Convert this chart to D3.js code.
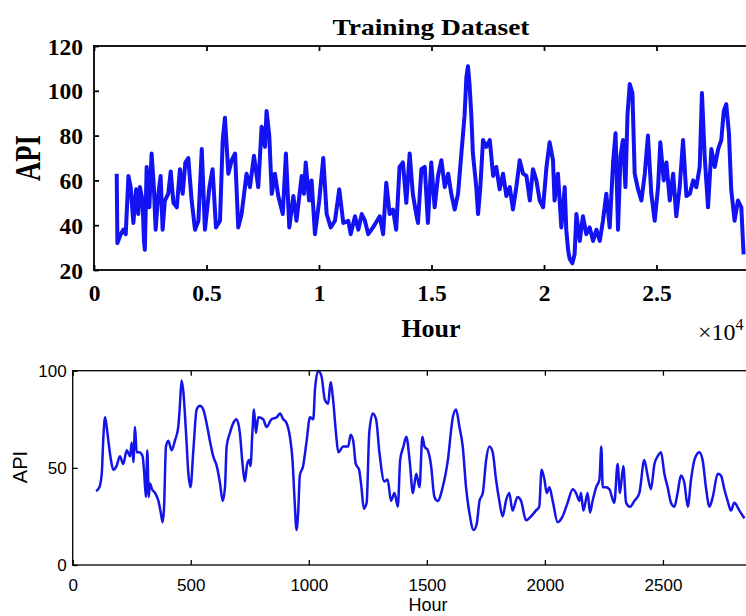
<!DOCTYPE html>
<html>
<head>
<meta charset="utf-8">
<script src="https://cdn.jsdelivr.net/npm/d3@7"></script>
<style>
  html, body { margin: 0; padding: 0; background: #fff; }
  svg { display: block; }
</style>
</head>
<body>
<svg id="chart" width="746" height="616"></svg>
<script>
// ---------------- DATA ----------------
// Top panel: Training Dataset (hour, API)
const trainHours = [1010,1040,1190,1300,1410,1530,1630,1750,1870,1970,2040,2160,2220,2260,2340,2460,2560,2660,2740,2850,2960,3050,3150,3300,3410,3530,3680,3820,3940,4060,4190,4340,4490,4640,4790,4930,5130,5270,5420,5600,5720,5820,5970,6120,6270,6410,6560,6780,6930,7110,7300,7450,7600,7670,7790,7900,8040,8190,8390,8530,8680,8860,9000,9230,9330,9410,9560,9670,9820,10010,10190,10340,10520,10710,10900,11080,11300,11410,11600,11750,11900,12040,12190,12400,12700,12850,12990,13140,13290,13430,13580,13730,13880,14030,14170,14320,14400,14550,14700,14840,14990,15140,15290,15440,15590,15740,15880,16030,16180,16320,16470,16550,16620,16690,16770,16840,16990,17070,17170,17290,17440,17590,17740,17880,18030,18180,18330,18480,18620,18770,18920,19070,19220,19370,19510,19660,19810,19960,20110,20250,20400,20470,20620,20770,20920,20990,21070,21140,21260,21360,21440,21590,21730,21880,22030,22180,22330,22480,22620,22770,22920,23070,23180,23290,23400,23510,23620,23710,23810,23930,24030,24180,24330,24480,24620,24770,24920,25070,25170,25320,25440,25590,25740,25880,26030,26180,26330,26480,26630,26770,26920,27020,27140,27290,27440,27590,27740,27880,27990,28100,28220,28320,28470,28620,28770,28870];
const trainAPI = [63,32,36,38,36,62,57,41,56,45,57,51,33,29,66,48,72,57,38,53,62,38,51,54,64,50,48,65,54,68,70,51,38,42,74,38,57,65,39,42,78,88,63,69,72,39,45,63,57,71,57,84,75,91,80,54,63,53,45,72,39,53,42,62,54,68,51,60,36,51,70,45,39,42,56,41,42,36,44,38,45,42,36,39,44,36,59,45,47,38,66,68,50,72,54,45,41,65,66,41,68,48,62,69,57,63,54,47,54,71,89,106,111,103,89,72,57,45,57,78,75,78,62,66,56,63,53,57,47,57,69,63,62,51,65,60,51,48,66,77,69,51,63,39,57,38,29,25,23,27,45,33,44,36,39,33,38,33,42,54,39,68,81,38,71,78,57,89,103,99,63,56,51,63,80,54,42,57,77,60,68,51,63,44,57,78,53,54,60,57,66,99,71,48,74,66,74,78,91,94,81,56,42,51,48,27];

// Bottom panel (hour, API)
const testHours = [99,113,123,130,137,144,151,162,172,186,200,214,229,243,250,257,264,271,282,296,303,310,316,322,327,336,349,363,373,381,387,395,405,419,433,447,454,461,468,480,490,499,511,525,539,553,567,581,595,610,624,635,645,652,666,680,694,708,720,729,739,748,753,761,768,776,786,807,821,842,864,878,892,906,920,931,940,948,955,962,976,991,1005,1019,1026,1040,1054,1068,1082,1092,1103,1115,1125,1146,1167,1177,1188,1199,1213,1223,1233,1245,1256,1271,1285,1299,1320,1334,1348,1363,1377,1387,1401,1413,1427,1441,1455,1469,1481,1490,1504,1518,1532,1546,1567,1589,1610,1624,1638,1652,1666,1680,1698,1711,1723,1737,1751,1765,1779,1793,1807,1821,1835,1849,1863,1884,1899,1920,1941,1962,1976,1986,1998,2008,2019,2033,2054,2075,2096,2118,2132,2146,2153,2163,2181,2191,2202,2217,2231,2239,2245,2259,2273,2294,2308,2318,2332,2344,2361,2379,2400,2421,2435,2449,2464,2478,2492,2506,2520,2534,2548,2562,2576,2591,2605,2619,2633,2654,2668,2682,2697,2711,2732,2746,2760,2774,2788,2802,2824,2845];
const testAPI = [38,40,47,66,76,71,64,54,49,51,56,52,59,56,63,53,71,58,58,56,47,35,59,35,42,39,37,33,27,22,30,61,64,59,64,71,82,95,90,68,47,40,59,80,82,80,73,64,56,51,42,33,40,61,68,73,75,68,51,43,52,54,51,68,80,68,76,75,71,75,76,78,75,73,66,54,33,18,27,46,51,64,76,75,90,100,97,85,83,94,85,68,58,61,61,67,64,52,49,40,29,32,68,78,75,58,43,44,33,37,30,54,61,66,54,37,47,40,66,61,59,51,35,33,40,54,76,80,71,61,40,27,18,21,33,37,54,61,58,44,33,25,33,37,28,35,33,23,25,28,30,49,44,37,40,33,22,25,32,39,37,33,37,28,37,27,33,40,44,61,40,40,39,32,52,37,51,32,30,33,37,54,46,39,52,56,58,47,40,32,30,37,46,42,30,44,54,58,54,40,30,35,47,46,39,33,28,32,28,24];

// Tick values / labels (visible ones)
const topXTicks = [0, 5000, 10000, 15000, 20000, 25000];
const topXTickLabels = ["0", "0.5", "1", "1.5", "2", "2.5"];
const topYTicks = [20, 40, 60, 80, 100, 120];
const botXTicks = [0, 500, 1000, 1500, 2000, 2500];
const botYTicks = [0, 50, 100];

// ---------------- DRAW ----------------
const svg = d3.select("#chart");
const serif = "'Liberation Serif', 'Times New Roman', serif";
const sans = "'Liberation Sans', Arial, sans-serif";

function boxAxes(g, x, y, xt, yt, xfmt, font, fsize, fweight, xLabOff, yLabGap, tick, sw) {
  const [x0, x1] = x.range();
  const [y0, y1] = y.range(); // y0 bottom, y1 top
  const bx = g.append("g").attr("transform", `translate(0,${y0})`)
    .call(d3.axisBottom(x).tickValues(xt).tickSize(-tick).tickSizeOuter(0).tickFormat(xfmt));
  bx.selectAll("text").attr("y", xLabOff).attr("dy", 0)
    .attr("font-family", font).attr("font-size", fsize).attr("font-weight", fweight).attr("fill", "#000");
  g.append("g").attr("transform", `translate(0,${y1})`)
    .call(d3.axisTop(x).tickValues(xt).tickSize(-tick).tickSizeOuter(0).tickFormat(""));
  const ly = g.append("g").attr("transform", `translate(${x0},0)`)
    .call(d3.axisLeft(y).tickValues(yt).tickSize(-tick).tickSizeOuter(0));
  ly.selectAll("text").attr("x", -yLabGap).attr("dy", "0.34em")
    .attr("font-family", font).attr("font-size", fsize).attr("font-weight", fweight).attr("fill", "#000");
  g.append("g").attr("transform", `translate(${x1},0)`)
    .call(d3.axisRight(y).tickValues(yt).tickSize(-tick).tickSizeOuter(0).tickFormat(""));
  g.selectAll(".domain").remove();
  g.selectAll(".tick line").attr("stroke", "#000").attr("stroke-width", sw);
  g.append("rect").attr("x", x0).attr("y", y1).attr("width", x1 - x0).attr("height", y0 - y1)
    .attr("fill", "none").attr("stroke", "#000").attr("stroke-width", sw);
}

// ---- Top panel ----
const xTop = d3.scaleLinear().domain([0, 30000]).range([94, 769]);
const yTop = d3.scaleLinear().domain([20, 120]).range([270, 46]);
const gTop = svg.append("g");

gTop.append("path")
  .datum(trainHours.map((h, i) => [h, trainAPI[i]]))
  .attr("fill", "none").attr("stroke", "#1212f2").attr("stroke-width", 4)
  .attr("stroke-linejoin", "round")
  .attr("d", d3.line().x(d => xTop(d[0])).y(d => yTop(d[1])));

boxAxes(gTop, xTop, yTop, topXTicks, topYTicks,
  (d, i) => topXTickLabels[i], serif, 23.5, "bold", 31, 11, 5, 1.8);

gTop.append("text").attr("x", 431).attr("y", 35).attr("text-anchor", "middle")
  .attr("font-family", serif).attr("font-weight", "bold").attr("font-size", 23)
  .attr("textLength", 197).attr("lengthAdjust", "spacingAndGlyphs")
  .text("Training Dataset");

gTop.append("text").attr("transform", "translate(40,158) rotate(-90)")
  .attr("text-anchor", "middle")
  .attr("font-family", serif).attr("font-weight", "bold").attr("font-size", 35)
  .attr("textLength", 46).attr("lengthAdjust", "spacingAndGlyphs")
  .text("API");

gTop.append("text").attr("x", 431).attr("y", 337).attr("text-anchor", "middle")
  .attr("font-family", serif).attr("font-weight", "bold").attr("font-size", 26)
  .text("Hour");

const mult = gTop.append("text").attr("x", 698).attr("y", 340)
  .attr("font-family", serif).attr("font-size", 24);
mult.append("tspan").text("\u00d710");
mult.append("tspan").attr("dy", -10).attr("font-size", 16).text("4");

// ---- Bottom panel ----
const xBot = d3.scaleLinear().domain([0, 3000]).range([72.7, 781]);
const yBot = d3.scaleLinear().domain([0, 100]).range([565, 370.7]);
const gBot = svg.append("g");

gBot.append("path")
  .datum(testHours.map((h, i) => [h, testAPI[i]]))
  .attr("fill", "none").attr("stroke", "#1414e8").attr("stroke-width", 2.5)
  .attr("stroke-linejoin", "round")
  .attr("d", d3.line().curve(d3.curveMonotoneX).x(d => xBot(d[0])).y(d => yBot(d[1])));

boxAxes(gBot, xBot, yBot, botXTicks, botYTicks, d3.format("d"), sans, 17, "normal", 26, 6, 5, 1.3);

gBot.append("text").attr("transform", "translate(27,467) rotate(-90)")
  .attr("text-anchor", "middle")
  .attr("font-family", sans).attr("font-size", 20)
  .text("API");

gBot.append("text").attr("x", 428).attr("y", 611).attr("text-anchor", "middle")
  .attr("font-family", sans).attr("font-size", 18)
  .text("Hour");
</script>
</body>
</html>
